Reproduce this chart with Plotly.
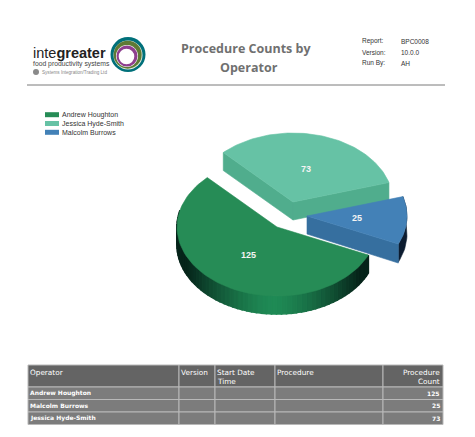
import math
import plotly.graph_objects as go

operators = ["Andrew Houghton", "Jessica Hyde-Smith", "Malcolm Burrows"]
counts = [125, 73, 25]
table_operators = ["Andrew Houghton", "Malcolm Burrows", "Jessica Hyde-Smith"]
table_counts = [125, 25, 73]
table_headers = ["Operator", "Version", "Start Date<br>Time", "Procedure", "Procedure<br>Count"]
meta_labels = ["Report:", "Version:", "Run By:"]
meta_values = ["BPC0008", "10.0.0", "AH"]

W, H = 475, 437
RX, RY, DEPTH = 100, 69, 18
START = -24.0
CENTERS = [(277, 227), (293, 202), (307, 216)]
TOP = ["#268c56", "#66c2a5", "#4381b7"]
SIDE = ["#50ad8d", "#50ad8d", "#366f9f"]


def mix(a, b, t):
    a = [int(a[i:i + 2], 16) for i in (1, 3, 5)]
    b = [int(b[i:i + 2], 16) for i in (1, 3, 5)]
    return "rgb(%d,%d,%d)" % tuple(round(x + (y - x) * t) for x, y in zip(a, b))


def pt(c, deg, dz=0.0):
    r = math.radians(deg)
    return c[0] + RX * math.cos(r), c[1] - RY * math.sin(r) + dz


def poly(xs, ys, color, name=None, width=0.6):
    return go.Scatter(x=xs + xs[:1], y=ys + ys[:1], mode="lines", fill="toself",
                      fillcolor=color, line=dict(color=color, width=width),
                      hoverinfo="skip" if name is None else "text",
                      text=name, showlegend=False)


fig = go.Figure()
total = sum(counts)
spans = []
a = START
for v in counts:
    b = a - 360.0 * v / total
    spans.append((a, b))
    a = b

# Andrew: outer rim with a metallic gradient, drawn first
c0 = CENTERS[0]
a0, b0 = spans[0]
n = 70
for i in range(n):
    d1 = a0 - (a0 - b0) * i / n
    d2 = a0 - (a0 - b0) * (i + 1) / n
    m = (d1 + d2) / 2
    if math.sin(math.radians(m)) > 0.25:
        continue
    x = (pt(c0, m)[0] - c0[0]) / RX
    t = abs(x + 0.05)
    col = mix("#1f8a55", "#06241a", min(1, t ** 1.5 * 1.25))
    p1, p2 = pt(c0, d1), pt(c0, d2)
    q2, q1 = pt(c0, d2, DEPTH), pt(c0, d1, DEPTH)
    fig.add_trace(poly([p1[0], p2[0], q2[0], q1[0]], [p1[1], p2[1], q2[1], q1[1]], col, width=1.6))

# Andrew top face
steps = 80
xs, ys = [c0[0]], [c0[1]]
for i in range(steps + 1):
    p = pt(c0, a0 - (a0 - b0) * i / steps)
    xs.append(p[0]); ys.append(p[1])
fig.add_trace(poly(xs, ys, TOP[0], operators[0]))

# Jessica cut faces and top face
c1 = CENTERS[1]
a1, b1 = spans[1]
for deg, col in ((a1, SIDE[1]), (b1, SIDE[1])):
    p = pt(c1, deg)
    fig.add_trace(poly([c1[0], p[0], p[0], c1[0]], [c1[1], p[1], p[1] + DEPTH, c1[1] + DEPTH], col))
xs, ys = [c1[0]], [c1[1]]
for i in range(steps + 1):
    p = pt(c1, a1 - (a1 - b1) * i / steps)
    xs.append(p[0]); ys.append(p[1])
fig.add_trace(poly(xs, ys, TOP[1], operators[1]))

# Malcolm outer rim, cut face and top face
c2 = CENTERS[2]
a2, b2 = spans[2]
xs, ys = [], []
for i in range(21):
    p = pt(c2, a2 - (a2 - b2) * i / 20)
    xs.append(p[0]); ys.append(p[1])
for i in range(20, -1, -1):
    p = pt(c2, a2 - (a2 - b2) * i / 20, DEPTH)
    xs.append(p[0]); ys.append(p[1])
fig.add_trace(poly(xs, ys, "#0c1c30"))
p = pt(c2, b2)
fig.add_trace(poly([c2[0], p[0], p[0], c2[0]], [c2[1], p[1], p[1] + DEPTH + 1, c2[1] + DEPTH], SIDE[2]))
xs, ys = [c2[0]], [c2[1]]
for i in range(41):
    p = pt(c2, a2 - (a2 - b2) * i / 40)
    xs.append(p[0]); ys.append(p[1])
fig.add_trace(poly(xs, ys, TOP[2], operators[2]))

ann = []


def label(x, y, text, size, color="#333333", family="Liberation Sans", anchor="left"):
    ann.append(dict(x=x, y=y, text=text, showarrow=False, xanchor=anchor, xshift=0,
                    borderpad=0, font=dict(family=family, size=size, color=color)))


# value labels
for (s, e), c, v in zip(spans, CENTERS, counts):
    r = math.radians((s + e) / 2)
    ann.append(dict(x=c[0] + 0.5 * RX * math.cos(r), y=c[1] - 0.5 * RY * math.sin(r),
                    text="<b>%d</b>" % v, showarrow=False,
                    font=dict(family="Liberation Sans", size=9, color="#f4f4f4")))

shapes = []
shapes.append(dict(type="line", x0=27, x1=445, y0=85, y1=85, line=dict(color="#7a7a7a", width=1)))
for cx, cy, r, col in ((128, 54.5, 17.5, "#00707a"), (128, 55, 14.5, "#e8efe4"), (127.7, 54.7, 14, "#5f7a35"),
                       (127, 56, 11, "#ffffff"), (127, 56, 10.5, "#8e3f8f"), (126.5, 56.5, 7.8, "#ffffff")):
    shapes.append(dict(type="circle", x0=cx - r, x1=cx + r, y0=cy - r, y1=cy + r,
                       fillcolor=col, line=dict(width=0)))
shapes.append(dict(type="circle", x0=33, x1=39, y0=69, y1=75, fillcolor="#8a8a8a", line=dict(width=0)))

for i, (name, col) in enumerate(zip(operators, TOP)):
    y = 114.7 + 8.8 * i
    shapes.append(dict(type="rect", x0=45, x1=59, y0=y - 2.5, y1=y + 2.5, fillcolor=col, line=dict(width=0)))
    label(61, y, name, 7)

label(246, 48.5, "<b>Procedure Counts by</b>", 12.5, "#707070", "Open Sans", "center")
label(249, 67, "<b>Operator</b>", 12.5, "#707070", "Open Sans", "center")
for i, (k, v) in enumerate(zip(meta_labels, meta_values)):
    y = 41 + 11.2 * i
    label(361, y, k, 6.5)
    label(400, y, v, 6.5)
label(32, 53, "inte<b>greater</b>", 14.5, "#222222")
label(32, 63.5, "food productivity systems", 6.8, "#444444")
label(41, 72.5, "Systems Integration/Trading Ltd", 4.6, "#888888")

# data table
edges = [28, 179, 215, 275, 383, 443]
HEAD = (365, 387)
rows_y = [(387, 399.5), (399.5, 412), (412, 424.5)]
LINE = "#b8b8b8"


def cell(x0, x1, y0, y1, col):
    shapes.append(dict(type="rect", x0=x0, x1=x1, y0=y0, y1=y1, fillcolor=col,
                       line=dict(color=LINE, width=1)))


for j, h in enumerate(table_headers):
    x0, x1 = edges[j], edges[j + 1]
    cell(x0, x1, HEAD[0], HEAD[1], "#646464")
    for k, t in enumerate(h.split("<br>")):
        yy = 372 + 9 * k
        if j == len(table_headers) - 1:
            label(x1 - 2, yy, t, 7.3, "white", "DejaVu Sans", "right")
        else:
            label(x0 + 1, yy, t, 7.3, "white", "DejaVu Sans")
for (y0, y1), name, v in zip(rows_y, table_operators, table_counts):
    for j in range(5):
        cell(edges[j], edges[j + 1], y0, y1, "#7c7c7c")
    label(edges[0] + 1, (y0 + y1) / 2, "<b>%s</b>" % name, 6, "white", "DejaVu Sans")
    label(edges[-1] - 2, (y0 + y1) / 2, "<b>%d</b>" % v, 6, "white", "DejaVu Sans", "right")

fig.update_layout(
    width=W, height=H, margin=dict(l=0, r=0, t=0, b=0),
    paper_bgcolor="white", plot_bgcolor="white", showlegend=False,
    xaxis=dict(range=[0, W], visible=False, fixedrange=True),
    yaxis=dict(range=[H, 0], visible=False, fixedrange=True),
    shapes=shapes, annotations=ann,
)
fig.write_html("out.html", config=dict(displayModeBar=False),
               post_script="document.body.style.margin='0';document.documentElement.style.overflow='hidden';")
